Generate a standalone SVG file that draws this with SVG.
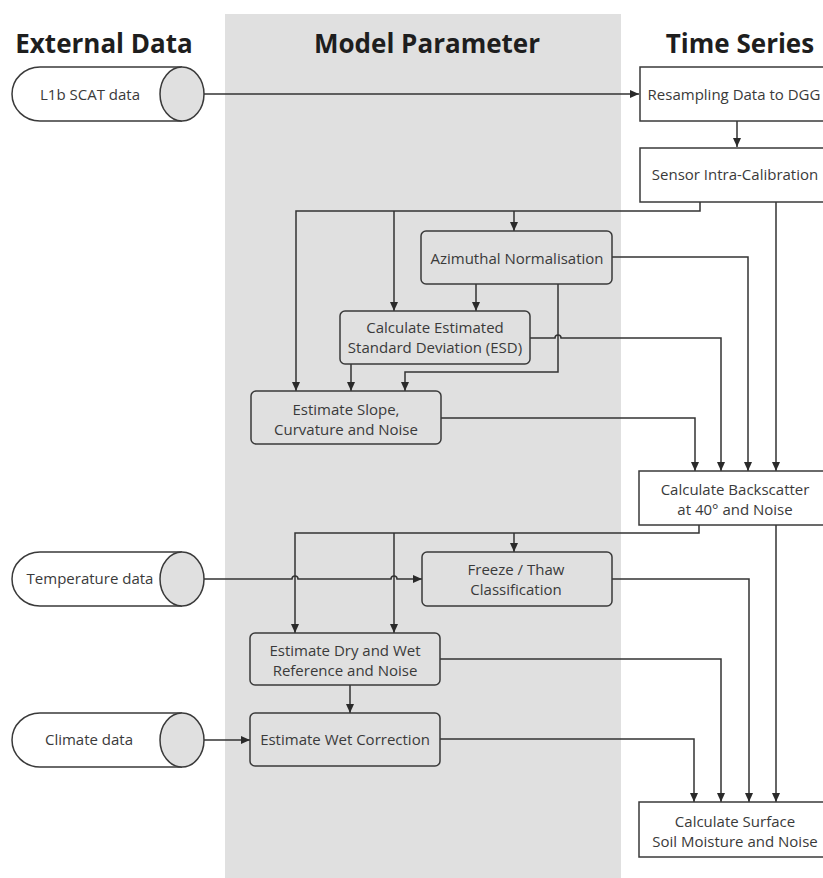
<svg xmlns="http://www.w3.org/2000/svg" width="823" height="878" viewBox="0 0 823 878">
<defs>
<marker id="ah" markerUnits="userSpaceOnUse" markerWidth="10" markerHeight="10" refX="9" refY="4" orient="auto">
<path d="M0,0 L9,4 L0,8 Z" fill="#2a2a2a"/>
</marker>
<style>
.title{font-family:"Open Sans","Liberation Sans",sans-serif;font-weight:700;font-size:26px;fill:#1e1e1e;text-anchor:middle}
.t{font-family:"Open Sans","Liberation Sans",sans-serif;font-size:15px;fill:#3a3a3a;text-anchor:middle}
.box{fill:#ffffff;stroke:#3a3a3a;stroke-width:1.5}
.rbox{fill:#e0e0e0;stroke:#3a3a3a;stroke-width:1.5}
.cyl{fill:#ffffff;stroke:#3a3a3a;stroke-width:1.5}
.cap{fill:#e0e0e0;stroke:#3a3a3a;stroke-width:1.5}
.c{fill:none;stroke:#333333;stroke-width:1.5}
.a{marker-end:url(#ah)}
</style>
</defs>
<rect x="0" y="0" width="823" height="878" fill="#ffffff"/>
<rect id="band" x="225" y="14" width="396" height="864" fill="#e0e0e0"/>
<text class="title" x="104" y="53">External Data</text>
<text class="title" x="427" y="53">Model Parameter</text>
<text class="title" x="740" y="53">Time Series</text>

<g id="connectors">
<path class="c a" d="M185,94 H639"/>
<path class="c a" d="M737,121 V147"/>
<path class="c a" d="M700,202 V211 H296 V391"/>
<path class="c a" d="M394,211 V311"/>
<path class="c a" d="M514,211 V231"/>
<path class="c a" d="M776,202 V471"/>
<path class="c a" d="M612,257 H748 V471"/>
<path class="c a" d="M476,284 V311"/>
<path class="c a" d="M558,284 V372 H405 V391"/>
<path class="c a" d="M530,338 H555 A3,3 0 0 1 561,338 H721 V471"/>
<path class="c a" d="M351,364 V391"/>
<path class="c a" d="M441,418 H695 V471"/>
<path class="c a" d="M699,525 V533 H295 V633"/>
<path class="c a" d="M394,533 V633"/>
<path class="c a" d="M514,533 V552"/>
<path class="c a" d="M776,525 V802"/>
<path class="c a" d="M185,579 H292 A3,3 0 0 1 298,579 H391 A3,3 0 0 1 397,579 H422"/>
<path class="c a" d="M612,579 H749 V802"/>
<path class="c a" d="M440,659 H721 V802"/>
<path class="c a" d="M350,685 V713"/>
<path class="c a" d="M440,739 H694 V802"/>
<path class="c a" d="M185,740 H250"/>
</g>

<g id="l1b">
<path class="cyl" d="M182,67 H40 A28,27 0 0 0 40,121 H182"/>
<ellipse class="cap" cx="182" cy="94" rx="22" ry="27"/>
<text class="t" x="90" y="100">L1b SCAT data</text>
</g>
<g id="temperature">
<path class="cyl" d="M182,552 H40 A28,27 0 0 0 40,606 H182"/>
<ellipse class="cap" cx="182" cy="579" rx="22" ry="27"/>
<text class="t" x="90" y="584">Temperature data</text>
</g>
<g id="climate">
<path class="cyl" d="M182,713 H40 A28,27 0 0 0 40,767 H182"/>
<ellipse class="cap" cx="182" cy="740" rx="22" ry="27"/>
<text class="t" x="89" y="745">Climate data</text>
</g>

<g id="resampling">
<rect class="box" x="640" y="67" width="190" height="54"/>
<text class="t" x="734" y="100">Resampling Data to DGG</text>
</g>
<g id="sensor">
<rect class="box" x="640" y="148" width="190" height="54"/>
<text class="t" x="735" y="180">Sensor Intra-Calibration</text>
</g>
<g id="azimuthal">
<rect class="rbox" x="421" y="231" width="191" height="53" rx="5"/>
<text class="t" x="517" y="264">Azimuthal Normalisation</text>
</g>
<g id="esd">
<rect class="rbox" x="340" y="311" width="190" height="53" rx="5"/>
<text class="t" x="435" y="333">Calculate Estimated</text>
<text class="t" x="435" y="353">Standard Deviation (ESD)</text>
</g>
<g id="slope">
<rect class="rbox" x="251" y="391" width="190" height="53" rx="5"/>
<text class="t" x="346" y="415">Estimate Slope,</text>
<text class="t" x="346" y="435">Curvature and Noise</text>
</g>
<g id="backscatter">
<rect class="box" x="639" y="471" width="190" height="54"/>
<text class="t" x="735" y="495">Calculate Backscatter</text>
<text class="t" x="735" y="515">at 40° and Noise</text>
</g>
<g id="freeze">
<rect class="rbox" x="422" y="552" width="190" height="54" rx="5"/>
<text class="t" x="516" y="575">Freeze / Thaw</text>
<text class="t" x="516" y="595">Classification</text>
</g>
<g id="dry">
<rect class="rbox" x="250" y="633" width="190" height="52" rx="5"/>
<text class="t" x="345" y="656">Estimate Dry and Wet</text>
<text class="t" x="345" y="676">Reference and Noise</text>
</g>
<g id="wet">
<rect class="rbox" x="250" y="713" width="190" height="53" rx="5"/>
<text class="t" x="345" y="745">Estimate Wet Correction</text>
</g>
<g id="surface">
<rect class="box" x="639" y="802" width="190" height="55"/>
<text class="t" x="735" y="827">Calculate Surface</text>
<text class="t" x="735" y="847">Soil Moisture and Noise</text>
</g>
</svg>
